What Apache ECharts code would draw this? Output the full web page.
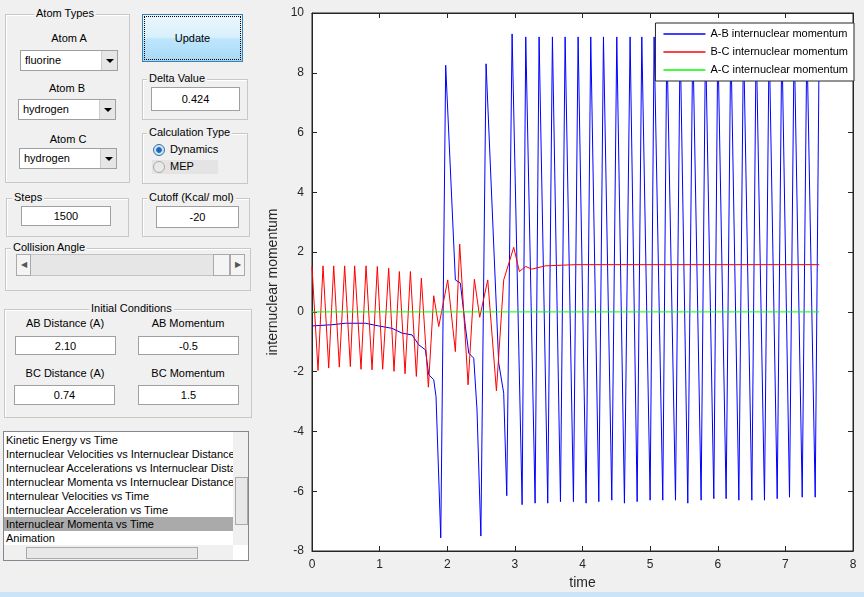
<!DOCTYPE html>
<html>
<head>
<meta charset="utf-8">
<script src="https://cdn.jsdelivr.net/npm/echarts@6/dist/echarts.min.js"></script>
<style>
body{margin:0;width:864px;height:597px;background:#f0f0f0;font-family:"Liberation Sans",Arial,sans-serif;font-size:11px;color:#000;overflow:hidden;position:relative}
.abs{position:absolute}
.panel{position:absolute;border:1px solid #c8c8c8;box-shadow:inset 1px 1px 0 #fff}
.ptitle{position:absolute;top:-8px;background:#f0f0f0;padding:0 2px;white-space:nowrap}
.lbl{position:absolute;text-align:center;white-space:nowrap}
.box{position:absolute;background:#fff;border:1px solid #a0a0a0;text-align:center;line-height:18px;box-sizing:border-box}
.sel{position:absolute;background:#fff;border:1px solid #a0a0a0;box-sizing:border-box;padding-left:4px;line-height:19px}
.sel .arr{position:absolute;right:0;top:0;bottom:0;width:15px;background:#e6e6e6;border-left:1px solid #ccc}
.sel .arr:after{content:"";position:absolute;left:4px;top:8px;border-left:4px solid transparent;border-right:4px solid transparent;border-top:4px solid #000}
#main{position:absolute;left:0;top:0;width:864px;height:597px}
.li{height:14px;line-height:14px;padding-left:2px;white-space:nowrap;overflow:hidden}
</style>
</head>
<body>
<!-- controls on the left -->
<div class="panel" style="left:5px;top:14px;width:123px;height:167px">
  <div class="ptitle" style="left:28px">Atom Types</div>
</div>
<div class="lbl" style="left:20px;width:98px;top:32px">Atom A</div>
<div class="sel" style="left:20px;top:50px;width:98px;height:21px">fluorine<div class="arr"></div></div>
<div class="lbl" style="left:18px;width:98px;top:82px">Atom B</div>
<div class="sel" style="left:18px;top:99px;width:98px;height:21px">hydrogen<div class="arr"></div></div>
<div class="lbl" style="left:19px;width:98px;top:133px">Atom C</div>
<div class="sel" style="left:19px;top:148px;width:98px;height:21px">hydrogen<div class="arr"></div></div>

<div class="abs" style="left:142px;top:14px;width:101px;height:48px;box-sizing:border-box;border:1px solid #3c7fb1;outline:1px dotted #000;outline-offset:-3px;background:linear-gradient(#eaf6fd,#d9f0fc 48%,#bee6fd 52%,#a7d9f5);text-align:center;line-height:46px">Update</div>

<div class="panel" style="left:142px;top:79px;width:104px;height:39px"><div class="ptitle" style="left:4px">Delta Value</div></div>
<div class="box" style="left:151px;top:87px;width:89px;height:24px;line-height:22px">0.424</div>

<div class="panel" style="left:142px;top:133px;width:104px;height:49px"><div class="ptitle" style="left:4px">Calculation Type</div></div>
<div class="abs" style="left:152px;top:160px;width:66px;height:14px;background:#e4e4e4"></div>
<div class="abs" style="left:153px;top:144px;width:10px;height:10px;border-radius:50%;border:1px solid #3a6fa0;background:radial-gradient(#1e6bb8 35%,#cfe3f5 45%)"></div>
<div class="abs" style="left:170px;top:143px">Dynamics</div>
<div class="abs" style="left:153px;top:161px;width:10px;height:10px;border-radius:50%;border:1px solid #aaa;background:#e8e8e8"></div>
<div class="abs" style="left:170px;top:160px">MEP</div>

<div class="panel" style="left:6px;top:198px;width:121px;height:37px"><div class="ptitle" style="left:5px">Steps</div></div>
<div class="box" style="left:21px;top:206px;width:90px;height:20px">1500</div>
<div class="panel" style="left:142px;top:198px;width:106px;height:37px"><div class="ptitle" style="left:4px">Cutoff (Kcal/ mol)</div></div>
<div class="box" style="left:156px;top:206px;width:83px;height:22px;line-height:20px">-20</div>

<div class="panel" style="left:5px;top:248px;width:244px;height:41px"><div class="ptitle" style="left:5px">Collision Angle</div></div>
<div class="abs" style="left:16px;top:254px;width:229px;height:22px;background:#e6e6e6;border:1px solid #c4c4c4;box-sizing:border-box"></div>
<div class="abs" style="left:16px;top:254px;width:15px;height:22px;background:#f4f4f4;border:1px solid #aaa;box-sizing:border-box;text-align:center;line-height:20px;font-size:8px;color:#555">&#9664;</div>
<div class="abs" style="left:213px;top:254px;width:17px;height:22px;background:#f4f4f4;border:1px solid #aaa;box-sizing:border-box"></div>
<div class="abs" style="left:230px;top:254px;width:15px;height:22px;background:#f4f4f4;border:1px solid #aaa;box-sizing:border-box;text-align:center;line-height:20px;font-size:8px;color:#555">&#9654;</div>

<div class="panel" style="left:4px;top:309px;width:246px;height:107px"><div class="ptitle" style="left:84px">Initial Conditions</div></div>
<div class="lbl" style="left:15px;width:100px;top:317px">AB Distance (A)</div>
<div class="lbl" style="left:138px;width:100px;top:317px">AB Momentum</div>
<div class="box" style="left:15px;top:336px;width:101px;height:19px">2.10</div>
<div class="box" style="left:138px;top:336px;width:101px;height:19px">-0.5</div>
<div class="lbl" style="left:15px;width:100px;top:367px">BC Distance (A)</div>
<div class="lbl" style="left:138px;width:100px;top:367px">BC Momentum</div>
<div class="box" style="left:14px;top:385px;width:101px;height:20px">0.74</div>
<div class="box" style="left:138px;top:385px;width:101px;height:20px">1.5</div>

<div class="abs" style="left:3px;top:431px;width:246px;height:130px;background:#fff;border:1px solid #828790;box-sizing:border-box;overflow:hidden">
  <div style="position:absolute;left:0;top:1px;width:229px">
    <div class="li">Kinetic Energy vs Time</div>
    <div class="li">Internuclear Velocities vs Internuclear Distance</div>
    <div class="li">Internuclear Accelerations vs Internuclear Distance</div>
    <div class="li">Internuclear Momenta vs Internuclear Distance</div>
    <div class="li">Internulear Velocities vs Time</div>
    <div class="li">Internuclear Acceleration vs Time</div>
    <div class="li" style="background:#aaa">Internuclear Momenta vs Time</div>
    <div class="li">Animation</div>
  </div>
  <div style="position:absolute;left:229px;top:0;width:16px;height:113px;background:#f0f0f0"></div>
  <div style="position:absolute;left:231px;top:45px;width:13px;height:48px;background:#e8e8e8;border:1px solid #aaa;box-sizing:border-box"></div>
  <div style="position:absolute;left:0;top:113px;width:229px;height:16px;background:#f0f0f0"></div>
  <div style="position:absolute;left:22px;top:115px;width:172px;height:12px;background:#e8e8e8;border:1px solid #aaa;box-sizing:border-box"></div>
</div>
<div class="abs" style="left:0;top:592px;width:864px;height:5px;background:#cce4f7"></div>

<div id="main"></div>
<script>
// A-B internuclear momentum: [time, momentum]
var abMomentum = [
  [0,-0.47],[0.296,-0.43],[0.493,-0.38],[0.789,-0.38],[0.986,-0.47],[1.183,-0.55],
  [1.331,-0.71],[1.479,-0.77],[1.578,-1.1],[1.677,-1.27],[1.726,-2.1],[1.8,-2.27],
  [1.834,-2.83],[1.904,-7.56],[1.977,8.25],[2.12,1.07],[2.194,0.96],[2.268,-0.49],
  [2.318,-1.38],[2.392,-1.55],[2.44,-3.28],[2.497,-7.5],[2.574,8.3],[2.761,-1.71],
  [2.835,-2.72],[2.88,-6.15],[2.959,9.3],[3.107,-6.45],[3.161,9.2],[3.299,-6.4],
  [3.358,9.2],[3.486,-6.4],[3.555,9.2],[3.674,-6.35],[3.743,9.2],[3.866,-6.35],
  [3.935,9.2],[4.053,-6.4],[4.122,9.2],[4.241,-6.35],[4.31,9.2],[4.433,-6.3],
  [4.507,9.2],[4.62,-6.4],[4.704,9.2],[4.808,-6.35],[4.877,9.2],[5.0,-6.3],
  [5.059,9.2],[5.187,-6.3],[5.247,9.2],[5.375,-6.3],[5.444,9.2],[5.557,-6.4],
  [5.631,9.2],[5.754,-6.3],[5.819,9.2],[5.942,-6.25],[6.001,9.2],[6.124,-6.25],
  [6.193,9.2],[6.312,-6.3],[6.381,9.2],[6.504,-6.3],[6.568,9.2],[6.691,-6.3],
  [6.76,9.2],[6.879,-6.25],[6.948,9.2],[7.061,-6.2],[7.13,9.2],[7.249,-6.2],
  [7.318,9.2],[7.441,-6.2],[7.5,9.0]
];
// B-C internuclear momentum
var bcMomentum = [
  [0,1.52],[0.089,-1.96],[0.163,1.54],[0.247,-1.88],[0.321,1.54],[0.404,-1.85],
  [0.483,1.54],[0.567,-1.83],[0.631,1.54],[0.725,-1.92],[0.799,1.54],[0.888,-1.94],
  [0.966,1.52],[1.045,-1.92],[1.134,1.46],[1.213,-1.99],[1.292,1.35],[1.376,-2.07],
  [1.455,1.35],[1.543,-2.16],[1.617,1.13],[1.721,-2.52],[1.8,0.54],[1.874,-0.49],
  [2.007,1.07],[2.12,-1.33],[2.184,2.27],[2.308,-2.44],[2.401,1.09],[2.48,-0.18],
  [2.599,1.07],[2.727,-2.64],[2.835,1.07],[2.86,1.01],[2.983,2.16],[3.067,1.35],
  [3.16,1.52],[3.25,1.43],[3.45,1.54],[3.9,1.58],[7.5,1.58]
];
// A-C internuclear momentum (flat)
var acMomentum = [[0,0],[7.5,0]];
var seriesNames = ['A-B internuclear momentum','B-C internuclear momentum','A-C internuclear momentum'];

var myChart = echarts.init(document.getElementById('main'));
var axisFont = {fontFamily:'Liberation Sans', fontSize:12, color:'#262626'};
var frame = {onZero:false, lineStyle:{color:'#262626'}};
myChart.setOption({
  animation:false,
  grid:{left:312, top:13, width:541, height:538, show:true, backgroundColor:'#fff', borderColor:'#262626', borderWidth:1},
  legend:{
    orient:'vertical', right:10, top:23, itemGap:4, itemWidth:42, itemHeight:1.5, icon:'rect',
    backgroundColor:'#fff', borderColor:'#262626', borderWidth:1, padding:[4,6,4,8],
    textStyle:{fontFamily:'Liberation Sans', fontSize:11, color:'#000', lineHeight:14},
    data:seriesNames
  },
  xAxis:[
    {type:'value', min:0, max:8, interval:1, name:'time', nameLocation:'middle', nameGap:24,
     nameTextStyle:{fontFamily:'Liberation Sans', fontSize:14, color:'#262626'},
     axisLine:frame, axisTick:{inside:true, length:5}, axisLabel:axisFont, splitLine:{show:false}},
    {type:'value', min:0, max:8, interval:1, position:'top', axisLine:frame,
     axisTick:{inside:true, length:5}, axisLabel:{show:false}, splitLine:{show:false}}
  ],
  yAxis:[
    {type:'value', min:-8, max:10, interval:2, name:'internuclear momentum', nameLocation:'middle', nameGap:30,
     nameTextStyle:{fontFamily:'Liberation Sans', fontSize:14, color:'#262626'},
     axisLine:frame, axisTick:{inside:true, length:5}, axisLabel:axisFont, splitLine:{show:false}},
    {type:'value', min:-8, max:10, interval:2, position:'right', axisLine:frame,
     axisTick:{inside:true, length:5}, axisLabel:{show:false}, splitLine:{show:false}}
  ],
  series:[
    {name:seriesNames[0], type:'line', data:abMomentum, showSymbol:false, symbol:'none', lineStyle:{color:'#0000ff', width:1}, itemStyle:{color:'#0000ff'}},
    {name:seriesNames[1], type:'line', data:bcMomentum, showSymbol:false, symbol:'none', lineStyle:{color:'#ff0000', width:1}, itemStyle:{color:'#ff0000'}},
    {name:seriesNames[2], type:'line', data:acMomentum, showSymbol:false, symbol:'none', lineStyle:{color:'#00ff00', width:1}, itemStyle:{color:'#00ff00'}}
  ]
});
</script>
</body>
</html>
